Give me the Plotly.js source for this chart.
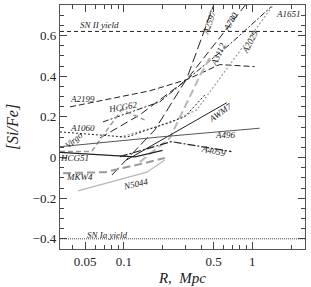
<!DOCTYPE html>
<html><head><meta charset="utf-8">
<script src="https://cdn.plot.ly/plotly-3.0.1.min.js"></script>
<style>html,body{margin:0;padding:0;background:#fff}#c{width:311px;height:287px}</style>
</head><body><div id="c"></div>
<script>
const snIIYield = 0.62;
const snIaYield = -0.40;

const a2199R = [0.0381, 0.1592, 0.3087, 0.5571, 1.042];
const a2199SiFe = [0.249, 0.328, 0.383, 0.457, 0.447];
const a1651R = [0.0687, 0.1904, 0.3087, 0.6662, 1.41];
const a1651SiFe = [0.175, 0.274, 0.383, 0.556, 0.743];
const a780R = [0.0651, 0.1331, 0.3087, 0.99];
const a780SiFe = [0.096, 0.210, 0.383, 0.79];
const a2597R = [0.0807, 0.1741, 0.3087, 0.52];
const a2597SiFe = [-0.086, 0.136, 0.388, 0.78];
const a3112R = [0.1331, 0.2277, 0.3895, 0.4658];
const a3112SiFe = [-0.022, 0.096, 0.40, 0.49];
const a2029R = [0.0931, 0.2277, 0.37, 1.43];
const a2029SiFe = [0.10, 0.17, 0.235, 0.743];
const a1060R = [0.0318, 0.105, 0.2978, 0.43];
const a1060SiFe = [0.126, 0.10, 0.20, 0.31];
const virgoR = [0.0318, 0.0561, 0.096, 0.145];
const virgoSiFe = [0.03, 0.03, 0.235, 0.185];
const awm7R = [0.105, 0.631];
const awm7SiFe = [-0.012, 0.269];
const a496R = [0.0318, 0.1904, 1.139];
const a496SiFe = [0.053, 0.101, 0.144];
const a4059R = [0.093, 0.159, 0.234, 0.687];
const a4059SiFe = [0.004, 0.047, 0.078, 0.029];
const hcg51R = [0.0318, 0.122, 0.20];
const hcg51SiFe = [0.025, 0.003, 0.035];
const mkw4R = [0.0336, 0.0712, 0.1456, 0.2082];
const mkw4SiFe = [-0.077, -0.072, -0.027, -0.002];
const n5044R = [0.0439, 0.1509, 0.2082];
const n5044SiFe = [-0.164, -0.072, -0.012];

const xTickVals = [0.05, 0.1, 0.5, 1];
const xTickText = ['0.05', '0.1', '0.5', '1'];
const xMinorVals = [0.04, 0.06, 0.07, 0.08, 0.09, 0.2, 0.3, 0.4, 0.6, 0.7, 0.8, 0.9, 2];
const yTickVals = [-0.4, -0.2, 0, 0.2, 0.4, 0.6];
const yTickText = ['\u22120.4', '\u22120.2', '0', '0.2', '0.4', '0.6'];

const labelNames = ['A1651','A2597','A780','A3112','A2029','A2199','HCG62','A1060','Virgo','HCG51','MKW4','N5044','AWM7','A496','A4059'];
const labelR = [1.91, 0.466, 0.678, 0.537, 0.953, 0.048, 0.098, 0.0472, 0.0408, 0.0409, 0.0455, 0.124, 0.557, 0.61, 0.50];
const labelSiFe = [0.704, 0.664, 0.664, 0.506, 0.570, 0.289, 0.249, 0.146, 0.086, -0.002, -0.096, -0.131, 0.220, 0.111, 0.032];
const labelAngle = [0, -70, -60, -65, -62, 0, -10, 0, -40, 0, 0, -12, -35, 0, 12];

const dk = '#222', gr = '#9a9a9a', lg = '#b8b8b8';
const serif = 'Liberation Serif';
function tr(x, y, color, dash, width) {
  return {x: x, y: y, type: 'scatter', mode: 'lines', line: {color: color, dash: dash, width: width}, hoverinfo: 'skip'};
}
const data = [
  tr(a2199R, a2199SiFe, dk, '6px,3px', 1),
  tr(a1651R, a1651SiFe, dk, '6px,2px,2px,2px', 1),
  tr(a780R, a780SiFe, dk, '8px,4px', 1),
  tr(a2597R, a2597SiFe, dk, '10px,4px', 1),
  tr(a3112R, a3112SiFe, lg, '8px,4px', 2),
  tr(a2029R, a2029SiFe, gr, '2px,2px', 1.2),
  tr(a1060R, a1060SiFe, dk, '2px,2px', 1),
  tr(virgoR, virgoSiFe, gr, '5px,3px', 1.5),
  tr(awm7R, awm7SiFe, dk, 'solid', 1),
  tr(a496R, a496SiFe, '#555', 'solid', 1),
  tr(a4059R, a4059SiFe, dk, '8px,2px,2px,2px', 1.2),
  tr(hcg51R, hcg51SiFe, dk, 'solid', 1.2),
  tr(mkw4R, mkw4SiFe, gr, '8px,4px', 2),
  tr(n5044R, n5044SiFe, lg, 'solid', 1.2)
];

const annotations = labelNames.map((t, i) => ({
  x: Math.log10(labelR[i]), y: labelSiFe[i], text: '<i>' + t + '</i>', showarrow: false,
  textangle: labelAngle[i], font: {family: serif, size: 9, color: '#222'},
  xanchor: 'center', yanchor: 'middle'
}));
annotations.push({x: Math.log10(0.0651), y: snIIYield + 0.034, text: '<i>SN II yield</i>', showarrow: false, font: {family: serif, size: 9, color: '#222'}});
annotations.push({x: Math.log10(0.0738), y: snIaYield + 0.021, text: '<i>SN Ia yield</i>', showarrow: false, font: {family: serif, size: 9, color: '#222'}});

const layout = {
  width: 311, height: 287,
  margin: {l: 60, r: 6, t: 5, b: 38},
  paper_bgcolor: '#fff', plot_bgcolor: '#fff',
  showlegend: false,
  font: {family: serif, color: '#222'},
  xaxis: {
    type: 'log', range: [Math.log10(0.0318), Math.log10(2.57)],
    tickmode: 'array', tickvals: xTickVals, ticktext: xTickText,
    ticks: 'inside', ticklen: 7, tickcolor: '#444', mirror: 'allticks',
    showline: true, linecolor: '#555', linewidth: 1.2, showgrid: false, zeroline: false,
    tickfont: {family: serif, size: 13, color: '#222'},
    minor: {tickmode: 'array', tickvals: xMinorVals, ticks: 'inside', ticklen: 4, tickcolor: '#444', showgrid: false},
    title: {text: '<i>R,  Mpc</i>', font: {family: serif, size: 15, color: '#222'}, standoff: 4}
  },
  yaxis: {
    range: [-0.45, 0.75],
    tickmode: 'array', tickvals: yTickVals, ticktext: yTickText,
    ticks: 'inside', ticklen: 7, tickcolor: '#444', mirror: 'allticks',
    showline: true, linecolor: '#555', linewidth: 1.2, showgrid: false, zeroline: false,
    tickfont: {family: serif, size: 13, color: '#222'},
    minor: {dtick: 0.05, ticks: 'inside', ticklen: 4, tickcolor: '#444', showgrid: false},
    title: {text: '<i>[Si/Fe]</i>', font: {family: serif, size: 16, color: '#222'}, standoff: 10}
  },
  shapes: [
    {type: 'line', xref: 'paper', x0: 0, x1: 1, yref: 'y', y0: snIIYield, y1: snIIYield, line: {color: '#222', width: 1, dash: '4px,3px'}},
    {type: 'line', xref: 'paper', x0: 0, x1: 1, yref: 'y', y0: snIaYield, y1: snIaYield, line: {color: '#444', width: 1, dash: '1px,1px'}}
  ],
  annotations: annotations
};
Plotly.newPlot('c', data, layout, {staticPlot: true, displayModeBar: false});
</script></body></html>
